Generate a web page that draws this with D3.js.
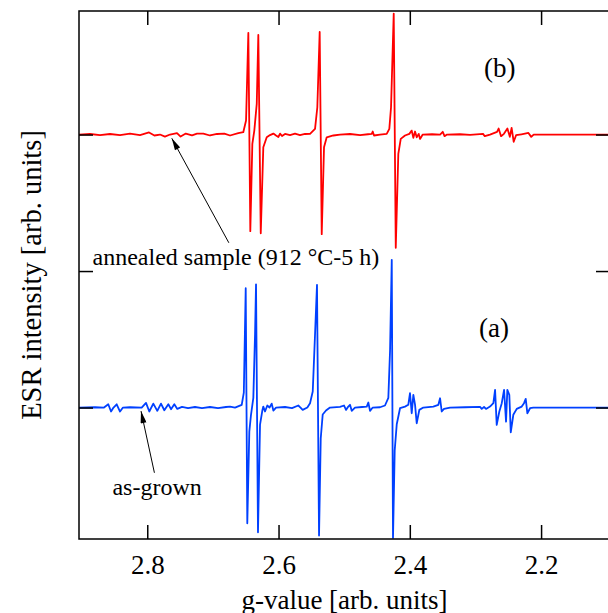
<!DOCTYPE html>
<html>
<head>
<meta charset="utf-8">
<script src="https://cdn.jsdelivr.net/npm/d3@7"></script>
<style>
  body { margin: 0; background: #fff; }
  svg { display: block; }
  text { font-family: "Liberation Serif", "Times New Roman", serif; fill: #000; }
</style>
</head>
<body>
<script>
// tick values
var gTicks = [2.8, 2.6, 2.4, 2.2],
  intensityTicks = [-100, 0, 100];

// (b) annealed sample (intensity in arb. units, baseline 0)
var annealedG = [
    2.904, 2.8872, 2.8720, 2.8568, 2.8415, 2.8263, 2.8111, 2.7973, 2.7891, 2.7806,
    2.7731, 2.7653, 2.7547, 2.7492, 2.7413, 2.7318, 2.7242, 2.7146, 2.7044, 2.6937,
    2.6826, 2.6739, 2.6613, 2.6537, 2.6495, 2.6460, 2.6430, 2.6399, 2.6369, 2.6332,
    2.6308, 2.6271, 2.6232, 2.6180, 2.6130, 2.6079, 2.6038, 2.6003, 2.5977, 2.5947,
    2.5901, 2.5825, 2.5749, 2.5673, 2.5596, 2.5520, 2.5444, 2.5409, 2.5373, 2.5342,
    2.5307, 2.5266, 2.5165, 2.5063, 2.4911, 2.4758, 2.4637, 2.4580, 2.4565, 2.4545,
    2.4454, 2.4352, 2.4312, 2.4286, 2.4245, 2.4214, 2.4175, 2.4138, 2.4073, 2.4007,
    2.3971, 2.3946, 2.3920, 2.3895, 2.3864, 2.3844, 2.3803, 2.3661, 2.3539, 2.3498,
    2.3471, 2.3433, 2.3235, 2.3082, 2.2884, 2.2858, 2.2778, 2.2671, 2.2647, 2.2610,
    2.2566, 2.2513, 2.2476, 2.2449, 2.2417, 2.2381, 2.2299, 2.2193, 2.2150, 2.2113,
    2.1711, 2.0980
  ],
  annealedI = [
    0, 0.4, -0.4, 0.4, -0.4, 0.6, -0.4, 1.5, -0.7, 0,
    -1.5, 0, 1.1, -1.5, 0.7, -0.6, 0.6, 0.7, -0.7, 0.4,
    0.7, -0.7, 1.1, 1.7, 10.3, 74.5, -70.8, -6.8, 2.9, 22.5,
    73.0, -72.3, -9.3, -2.0, -0.4, 0.7, -0.7, -1.8, 0.7, -1.1,
    0.4, -0.4, 0.6, -0.4, 0.4, 0.5, 4.2, 20.0, 75.2, -73.0,
    -9.3, -2.0, -0.7, 0, 0.4, -0.4, 0.2, 0.5, 2.2, -0.7,
    0, 0.5, 4.2, 20.0, 88.6, -83.0, -14.1, -3.2, -0.7, 0.5,
    2.9, -2.4, 2.2, -2.0, 0.5, -3.2, 0, 0.2, 0, 2.0,
    -1.2, 0, 0.2, -0.2, 0.5, -1.2, 0, 2.0, 4.4, -1.2,
    0.5, 4.4, -1.7, 4.9, -5.3, -0.5, 0.2, 1.2, -1.7, 0,
    0, 0
  ],
  annealedOffset = 100;

// (a) as-grown sample
var grownG = [
    2.904, 2.8796, 2.8659, 2.8594, 2.8552, 2.8514, 2.8466, 2.8415, 2.8370, 2.8263,
    2.8085, 2.8019, 2.7969, 2.7908, 2.7847, 2.7791, 2.7740, 2.7679, 2.7638, 2.7588,
    2.7542, 2.7471, 2.7379, 2.7273, 2.7166, 2.7044, 2.6922, 2.6800, 2.6739, 2.6663,
    2.6561, 2.6529, 2.6500, 2.6476, 2.6445, 2.6419, 2.6384, 2.6358, 2.6343, 2.6313,
    2.6282, 2.6247, 2.6232, 2.6206, 2.6171, 2.6137, 2.6104, 2.6079, 2.6038, 2.5901,
    2.5795, 2.5699, 2.5665, 2.5632, 2.5561, 2.5520, 2.5479, 2.5444, 2.5414, 2.5383,
    2.5357, 2.5327, 2.5277, 2.5216, 2.5063, 2.5002, 2.4972, 2.4937, 2.4911, 2.4885,
    2.4835, 2.4728, 2.4656, 2.4632, 2.4606, 2.4565, 2.4454, 2.4378, 2.4327, 2.4301,
    2.4275, 2.4256, 2.4230, 2.4199, 2.4149, 2.4073, 2.4023, 2.3997, 2.3971, 2.3946,
    2.3920, 2.3895, 2.3855, 2.3794, 2.3642, 2.3565, 2.3539, 2.3514, 2.3479, 2.3387,
    2.3159, 2.2930, 2.2904, 2.2869, 2.2839, 2.2778, 2.2727, 2.2701, 2.2676, 2.2636,
    2.2599, 2.2564, 2.2534, 2.2514, 2.2484, 2.2462, 2.2423, 2.2371, 2.2295, 2.2260,
    2.2234, 2.2209, 2.2168, 2.2118, 2.0980
  ],
  grownI = [
    0, 0.2, 0, 2.4, -2.9, 0, 2.4, -2.9, 0, 0.2,
    0, 3.4, -2.9, 2.9, -2.4, 2.9, -2.0, 2.4, -1.2, 2.4,
    -1.0, 0.5, -0.5, 0.4, -0.4, 0.4, -0.4, 0.4, 0.7, 0,
    2.0, 11.0, 87.4, -84.8, -17.6, -5.1, 7.1, 53.5, 90.3, -91.4,
    -12.5, -2.2, 0.7, -2.9, 1.5, 0, 2.9, -2.2, 0, 0.4,
    -0.4, 1.5, 0, -1.7, 0, 3.2, 11.7, 53.5, 89.9, -93.8,
    -22.5, -5.1, -2.2, 0, 0.5, 1.5, -1.7, 0.7, 2.0, -2.4,
    0, 0.4, 0.7, 3.7, -2.4, 0, 0.2, 1.5, 7.1, 41.8,
    108.2, -95.5, -31.5, -12.2, -0.5, 0.7, 2.0, 10.5, -4.2, 9.3,
    2.0, -11.5, -1.7, 0, 0.7, 2.0, 6.8, -2.9, -1.0, 0,
    0.2, 0.5, -1.0, 0.4, -1.0, 0.7, 3.2, 13.0, -12.7, -2.9,
    3.2, 13.0, -10.3, 13.0, 9.3, -18.1, -5.3, -1.0, 0.7, 3.2,
    6.4, -4.2, -0.5, 0, 0
  ],
  grownOffset = -100;

// annotations, in data coordinates [g, intensity]
var annealedLabel = { text: 'annealed sample (912 \u00b0C-5 h)', at: [2.8834, 4.4] },
  annealedArrow = [[2.6757, 20.7], [2.7626, 97.2]],
  grownLabel = { text: 'as-grown', at: [2.8531, -164.1] },
  grownArrow = [[2.7891, -147.8], [2.8095, -102.6]],
  panelLabels = [
    { text: '(b)', at: [2.2869, 142.1] },
    { text: '(a)', at: [2.2945, -48.4] }
  ];

var width = 608,
  height = 613,
  plot = { left: 79, top: 11, right: 610, bottom: 539 },
  tickLen = 14,
  serif = '"Liberation Serif", "Times New Roman", serif',
  x = d3.scaleLinear().domain([2.904, 2.095]).range([plot.left, plot.right]),
  y = d3.scaleLinear().domain([-196.3, 190.5]).range([plot.bottom, plot.top]),
  svg = d3.select('body').append('svg').attr('width', width).attr('height', height),
  line = d3.line().x(function(d) { return x(d[0]); }).y(function(d) { return y(d[1]); }),
  toPoints = function(gs, is, offset) {
    return gs.map(function(g, i) { return [g, is[i] + offset]; });
  },
  styleAxis = function(g) {
    g.select('.domain').remove();
    g.selectAll('.tick line').attr('stroke', '#000').attr('stroke-width', 1.5);
  };

svg.append('defs').append('clipPath').attr('id', 'plot-clip')
  .append('rect')
  .attr('x', plot.left).attr('y', plot.top)
  .attr('width', plot.right - plot.left).attr('height', plot.bottom - plot.top);

var marker = svg.select('defs').append('marker')
  .attr('id', 'arrowhead')
  .attr('viewBox', '0 0 12 6')
  .attr('refX', 12).attr('refY', 3)
  .attr('markerUnits', 'userSpaceOnUse')
  .attr('markerWidth', 13).attr('markerHeight', 6)
  .attr('orient', 'auto');
marker.append('path').attr('d', 'M0,0L12,3L0,6z').attr('fill', '#000');

// traces
var traces = svg.append('g').attr('clip-path', 'url(#plot-clip)');
traces.append('path')
  .datum(toPoints(annealedG, annealedI, annealedOffset))
  .attr('d', line)
  .attr('fill', 'none').attr('stroke', '#ff0000').attr('stroke-width', 1.8)
  .attr('stroke-linejoin', 'round');
traces.append('path')
  .datum(toPoints(grownG, grownI, grownOffset))
  .attr('d', line)
  .attr('fill', 'none').attr('stroke', '#0040ff').attr('stroke-width', 1.8)
  .attr('stroke-linejoin', 'round');

// axes (ticks point inward)
var bottomAxis = svg.append('g')
  .attr('transform', 'translate(0,' + plot.bottom + ')')
  .call(d3.axisBottom(x).tickValues(gTicks).tickSize(-tickLen).tickFormat(d3.format('.1f')))
  .call(styleAxis);
bottomAxis.attr('font-family', serif);
bottomAxis.selectAll('.tick text')
  .attr('y', 35).attr('dy', 0)
  .attr('font-size', 27).attr('fill', '#000');

svg.append('g')
  .attr('transform', 'translate(0,' + plot.top + ')')
  .call(d3.axisTop(x).tickValues(gTicks).tickSize(-tickLen).tickFormat(''))
  .call(styleAxis);

svg.append('g')
  .attr('transform', 'translate(' + plot.left + ',0)')
  .call(d3.axisLeft(y).tickValues(intensityTicks).tickSize(-tickLen).tickFormat(''))
  .call(styleAxis);

svg.append('g')
  .attr('transform', 'translate(' + plot.right + ',0)')
  .call(d3.axisRight(y).tickValues(intensityTicks).tickSize(-tickLen).tickFormat(''))
  .call(styleAxis);

svg.append('rect')
  .attr('x', plot.left).attr('y', plot.top)
  .attr('width', plot.right - plot.left).attr('height', plot.bottom - plot.top)
  .attr('fill', 'none').attr('stroke', '#000').attr('stroke-width', 1.5);

// annotations
[annealedArrow, grownArrow].forEach(function(a) {
  svg.append('line')
    .attr('x1', x(a[0][0])).attr('y1', y(a[0][1]))
    .attr('x2', x(a[1][0])).attr('y2', y(a[1][1]))
    .attr('stroke', '#000').attr('stroke-width', 1)
    .attr('marker-end', 'url(#arrowhead)');
});

[annealedLabel, grownLabel].forEach(function(l) {
  svg.append('text').text(l.text)
    .attr('x', x(l.at[0])).attr('y', y(l.at[1]))
    .attr('font-family', serif).attr('font-size', 24);
});

panelLabels.forEach(function(l) {
  svg.append('text').text(l.text)
    .attr('x', x(l.at[0])).attr('y', y(l.at[1]))
    .attr('font-family', serif).attr('font-size', 27);
});

// axis titles
svg.append('text').text('g-value [arb. units]')
  .attr('x', (plot.left + plot.right) / 2).attr('y', 608.5)
  .attr('text-anchor', 'middle').attr('font-family', serif).attr('font-size', 27);

svg.append('text').text('ESR intensity [arb. units]')
  .attr('transform', 'translate(41,' + (plot.top + plot.bottom) / 2 + ') rotate(-90)')
  .attr('text-anchor', 'middle').attr('font-family', serif).attr('font-size', 28.5);
</script>
</body>
</html>
